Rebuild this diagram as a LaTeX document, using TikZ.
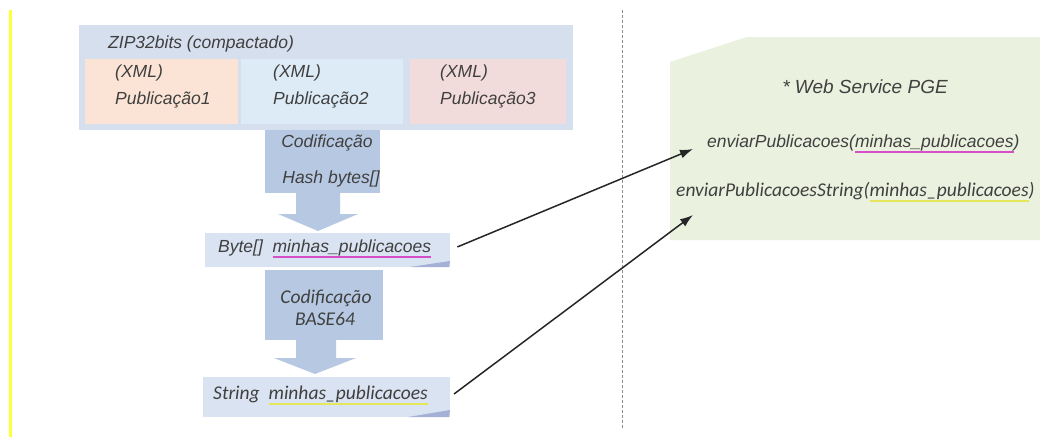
\documentclass[tikz,border=0pt]{standalone}
\usepackage{fontspec}
\setmainfont{Liberation Sans}
\newfontfamily\calfont{Carlito}
\usetikzlibrary{arrows.meta}
\definecolor{zipbg}{HTML}{D5DFEE}
\definecolor{peach}{HTML}{FBE4D5}
\definecolor{ltblue}{HTML}{DDEBF6}
\definecolor{pinkbg}{HTML}{F2DCDB}
\definecolor{arrowblue}{HTML}{B7C9E2}
\definecolor{boxblue}{HTML}{DAE3F1}
\definecolor{foldc}{HTML}{A4B0D6}
\definecolor{greenbg}{HTML}{EBF1DF}
\definecolor{txtc}{HTML}{404040}
\definecolor{magline}{HTML}{D64FC8}
\definecolor{yelline}{HTML}{E6E65A}
\definecolor{dashgrey}{HTML}{8C8C8C}
\definecolor{leftyellow}{HTML}{FFFF3A}
\newcommand\cul[2]{\setbox0\hbox{#2}\rlap{\color{#1}\rule[-6pt]{\wd0}{1.8pt}}#2}
\begin{document}
\begin{tikzpicture}[x=1pt,y=-1pt,
  lbl/.style={text=txtc, inner sep=0pt, anchor=base west, font=\fontsize{17.5}{20}\selectfont\itshape},
  clbl/.style={text=txtc, inner sep=0pt, anchor=base west, font=\calfont\fontsize{19.5}{22}\selectfont\itshape},
  boxn/.style={inner sep=0pt, outer sep=0pt, anchor=north west},
  link/.style={-{Latex[length=13pt,width=9pt]}, line width=1.5pt, black!85},
  blockarrow/.style={fill=arrowblue}]
\useasboundingbox (0,0) rectangle (1040,437);
\fill[white] (0,0) rectangle (1040,437);

% left yellow bar
\draw[leftyellow, line width=3.5pt] (10.5,10) -- (10.5,437);

% divider
\draw[dashgrey, line width=1pt, dash pattern=on 3pt off 2pt] (622,10) -- (622,428);

% ZIP container
\node[boxn, fill=zipbg, minimum width=494pt, minimum height=105pt] (zip) at (79,25) {};
\node[boxn, fill=peach, minimum width=153pt, minimum height=65pt] (p1) at (85,59) {};
\node[boxn, fill=ltblue, minimum width=162pt, minimum height=65pt] (p2) at (241,59) {};
\node[boxn, fill=pinkbg, minimum width=156pt, minimum height=65pt] (p3) at (410,59) {};
\node[lbl] (tzip) at (108,48) {ZIP32bits (compactado)};
\node[lbl] (x1) at (115,77) {(XML)};
\node[lbl] (n1) at (115,104) {Publicação1};
\node[lbl] (x2) at (273,77) {(XML)};
\node[lbl] (n2) at (273,104) {Publicação2};
\node[lbl] (x3) at (440,77) {(XML)};
\node[lbl] (n3) at (440,104) {Publicação3};

% block arrow 1
\fill[blockarrow] (265,130) rectangle (380,193);
\fill[blockarrow] (296,192) -- (296,214) -- (278,214) -- (318,231) -- (358,214) -- (340,214) -- (340,192) -- cycle;
\node[lbl, anchor=base] (c1) at (327,147) {Codificação};
\node[lbl, anchor=base] (h1) at (331,183) {Hash bytes[]};

% Byte box
\node[boxn, fill=boxblue, minimum width=245pt, minimum height=34pt] (bytebox) at (205,233) {};
\fill[foldc] (410,267) -- (450,261) -- (449,267) -- cycle;
\node[lbl] (tbyte) at (218,252) {Byte[]\ \ \cul{magline}{minhas\_publicacoes}};

% block arrow 2
\fill[blockarrow] (265,270) rectangle (383,340);
\fill[blockarrow] (296,339) -- (296,358) -- (274,358) -- (315,374) -- (356,358) -- (336,358) -- (336,339) -- cycle;
\node[clbl, anchor=base] (c2) at (326,303) {Codificação};
\node[clbl, anchor=base] (b64) at (325,325) {BASE64};

% String box
\node[boxn, fill=boxblue, minimum width=247pt, minimum height=40pt] (strbox) at (203,377) {};
\fill[foldc] (408,417) -- (450,410) -- (449,417) -- cycle;
\node[clbl] (tstr) at (213,399) {String\ \ \cul{yelline}{minhas\_publicacoes}};

% Web service panel
\fill[greenbg] (670,62) -- (747,37) -- (1040,37) -- (1040,240) -- (670,240) -- cycle;
\node[lbl, anchor=base, font=\fontsize{19}{22}\selectfont\itshape] (ws) at (865,93) {* Web Service PGE};
\node[lbl] (m1) at (707,147) {enviarPublicacoes(\cul{magline}{minhas\_publicacoes})};
\node[clbl] (m2) at (676,196) {enviarPublicacoesString(\cul{yelline}{minhas\_publicacoes})};

\coordinate (in1) at (693,149);
\coordinate (in2) at (693,215);

\draw[link, shorten <=8pt] (bytebox.east) -- (in1);
\draw[link, shorten <=5pt] (strbox.east) -- (in2);
\end{tikzpicture}
\end{document}
